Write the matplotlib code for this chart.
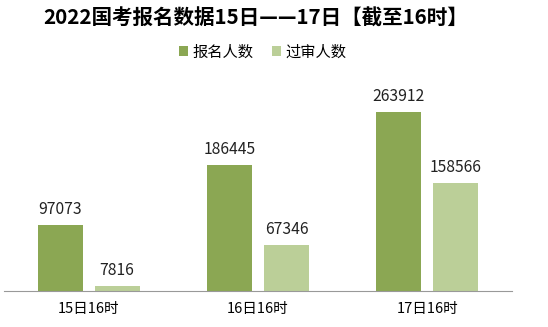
import numpy as np
import matplotlib
matplotlib.use("Agg")
import matplotlib.pyplot as plt

plt.rcParams['font.family'] = ['Noto Sans CJK SC', 'DejaVu Sans']

# 数据
categories = ["15日16时", "16日16时", "17日16时"]
baoming = [97073, 186445, 263912]
guoshen = [7816, 67346, 158566]
series_names = ["报名人数", "过审人数"]

c_dark = "#8BA753"
c_light = "#BBCF98"

fig = plt.figure(figsize=(5.48, 3.27), dpi=100)
ax = fig.add_axes([4/548, 36/327, 508/548, 203.5/327])

x = np.arange(len(categories))
w = 0.265
off = 0.168
b1 = ax.bar(x - off, baoming, w, color=c_dark, label=series_names[0])
b2 = ax.bar(x + off, guoshen, w, color=c_light, label=series_names[1])

for bars, vals in [(b1, baoming), (b2, guoshen)]:
    for r, v in zip(bars, vals):
        ax.annotate(str(v), (r.get_x() + r.get_width()/2, v),
                    xytext=(0, 5), textcoords="offset points",
                    ha="center", va="bottom", fontsize=11.3, color="#222222")

ax.set_xlim(-0.5, 2.5)
ax.set_ylim(0, 300000)
ax.set_xticks(x)
ax.set_xticklabels(categories, fontsize=10.5)
ax.tick_params(axis="x", length=0, pad=8)
ax.set_yticks([])
for s in ["top", "right", "left"]:
    ax.spines[s].set_visible(False)
ax.spines["bottom"].set_color("#999999")

fig.text(256/548, 1 - 18/327, "2022国考报名数据15日——17日【截至16时】",
         ha="center", va="center", fontsize=14.8, fontweight="bold")
fig.legend(loc="center", bbox_to_anchor=(263/548, 1 - 52/327), ncol=2,
           frameon=False, fontsize=11, handlelength=0.6, handleheight=0.6,
           handletextpad=0.3, columnspacing=1.2)

fig.savefig("out.png", dpi=100)
